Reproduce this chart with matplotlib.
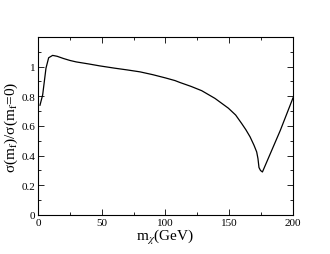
import matplotlib
matplotlib.use('Agg')
import matplotlib.pyplot as plt
from matplotlib.ticker import MultipleLocator, FixedFormatter, FixedLocator

plt.rcParams['font.family'] = ['Liberation Serif', 'DejaVu Serif']
plt.rcParams['mathtext.fontset'] = 'stix'

# m_chi (GeV) и отношение сечений
m_chi = [1.6, 3.7, 5.0, 6.3, 8.4, 11.5, 15, 20, 25, 30, 40, 48.6, 60, 70, 80,
         90, 100, 107.5, 111.4, 120, 128.4, 138.8, 149.3, 155, 159.7, 163,
         166.3, 169.4, 171.5, 172.5, 173.3, 174.5, 176, 180, 185, 190, 195, 200]
ratio = [0.74, 0.81, 0.90, 0.99, 1.06, 1.076, 1.07, 1.055, 1.042, 1.032, 1.018,
         1.005, 0.99, 0.978, 0.965, 0.946, 0.924, 0.906, 0.893, 0.867, 0.838,
         0.786, 0.72, 0.674, 0.617, 0.575, 0.527, 0.47, 0.425, 0.38, 0.32,
         0.30, 0.29, 0.37, 0.47, 0.57, 0.68, 0.79]

fig = plt.figure(figsize=(3.3, 2.55), dpi=100)
ax = fig.add_axes([0.115, 0.153, 0.773, 0.698])
ax.plot(m_chi, ratio, color='black', lw=0.9)

ax.set_xlim(0, 200)
ax.set_ylim(0, 1.2)
ax.xaxis.set_major_locator(MultipleLocator(50))
ax.xaxis.set_minor_locator(MultipleLocator(25))
ax.yaxis.set_major_locator(FixedLocator([0, 0.2, 0.4, 0.6, 0.8, 1.0, 1.2]))
ax.yaxis.set_major_formatter(FixedFormatter(['0', '0.2', '0.4', '0.6', '0.8', '1', '']))
ax.yaxis.set_minor_locator(MultipleLocator(0.1))
ax.tick_params(which='both', direction='in', top=True, right=True,
               labelsize=8, width=0.6, pad=2)
ax.tick_params(which='major', length=4)
ax.tick_params(which='minor', length=2)
for s in ax.spines.values():
    s.set_linewidth(0.8)

ax.set_xlabel(r'm$_\chi$(GeV)', fontsize=11, labelpad=0)
ax.set_ylabel('σ(m$_\\mathrm{f}$)/σ(m$_\\mathrm{f}$=0)', fontsize=11, labelpad=1)

fig.savefig('out.png', dpi=100)
